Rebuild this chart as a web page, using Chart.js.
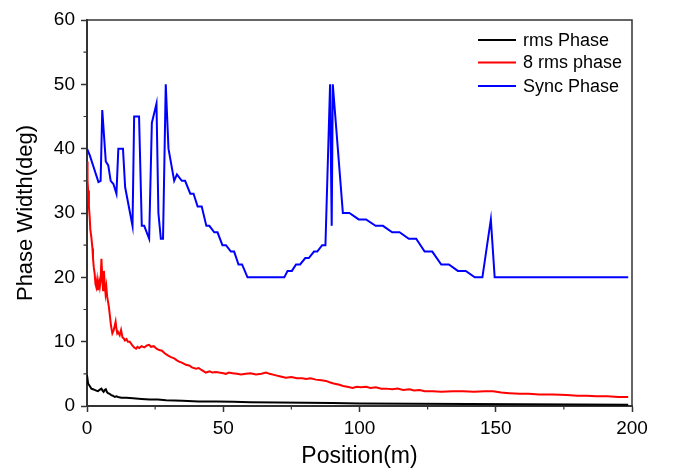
<!DOCTYPE html>
<html>
<head>
<meta charset="utf-8">
<script src="https://cdn.jsdelivr.net/npm/chart.js@4.4.1/dist/chart.umd.min.js"></script>
<style>
  html, body { margin: 0; padding: 0; background: #fff; }
  #wrap { width: 673px; height: 472px; }
</style>
</head>
<body>
<div id="wrap"><canvas id="c" width="673" height="472"></canvas></div>
<script>
// ---- data (x = Position in m, y = Phase width in deg) ----
const seriesNames = ['rms Phase', '8 rms phase', 'Sync Phase'];
const seriesColors = ['#000000', '#ff0000', '#0000ff'];

const rmsPhase = [[0,4.8],[0.4,3.5],[1,3.1],[1.6,2.7],[2.2,2.6],[2.8,2.5],[3.4,2.4],[4,2.3],[4.6,2.5],[5.3,2.7],[5.7,2.4],[6.1,2.2],[6.5,2.5],[6.9,2.6],[7.3,2.2],[7.7,2.0],[8.3,1.9],[8.9,1.7],[9.5,1.6],[10.2,1.4],[10.8,1.5],[11.4,1.4],[12.6,1.3],[14.4,1.3],[16.9,1.2],[20,1.1],[23,1.0],[26,1.0],[29,0.9],[35,0.8],[41,0.7],[47.5,0.7],[53.7,0.65],[60,0.6],[70,0.55],[80,0.5],[90,0.45],[100,0.4],[120,0.35],[140,0.3],[160,0.28],[180,0.25],[198.6,0.2]];

const rms8Phase = [[0,38],[0.2,35],[0.4,33.5],[0.7,31],[1.0,29.3],[1.2,27.5],[1.6,26.2],[2.0,24.5],[2.2,23],[2.5,21.5],[2.8,20.6],[3.1,19],[3.4,18.5],[3.7,19.5],[4.0,18],[4.4,19.3],[4.7,18.5],[5.0,19.5],[5.3,22.9],[5.6,20],[5.9,18],[6.2,21],[6.5,19],[6.8,17.5],[7.1,18.5],[7.4,17],[7.7,17],[8.0,15.5],[8.3,14.4],[8.8,12.5],[9.3,11.3],[9.8,11.8],[10.2,12.5],[10.5,13.1],[10.8,12],[11.1,11.3],[11.4,11.5],[12.0,11],[12.5,11.8],[13.0,10.7],[13.5,10.5],[13.9,10.2],[14.5,10.4],[15.0,10],[15.7,10],[16.5,9.5],[17.3,9.1],[18.0,8.9],[18.5,9.2],[19.2,9],[20,9.3],[21,9.1],[22,9.4],[22.8,9.5],[23.5,9.2],[24.5,9.3],[25.5,8.9],[26.5,8.7],[27.5,8.6],[28.5,8.2],[29.5,7.9],[30.8,7.6],[32,7.4],[33,7.1],[33.8,6.9],[35,6.7],[36.3,6.4],[37.5,6.3],[38.5,6.0],[40,5.8],[41,5.9],[42,5.6],[43.6,5.2],[45,5.4],[46,5.2],[47.3,5.3],[48.5,5.2],[50,5.1],[51,5.0],[52,5.2],[53.4,5.1],[55,5.0],[56.5,4.9],[58.3,5.0],[60,5.1],[62,4.9],[64,5.0],[65.7,5.2],[67,5.0],[69,4.8],[71,4.6],[73,4.4],[75,4.5],[77,4.3],[79,4.3],[80.4,4.2],[82,4.3],[84,4.1],[86,4.0],[87.7,3.9],[89,3.7],[90.5,3.5],[92.6,3.3],[94,3.1],[95.5,3.0],[97.5,2.8],[99,3.0],[100.5,2.9],[102.5,3.0],[104,2.8],[106,2.9],[108,2.7],[109.8,2.7],[112,2.6],[114,2.7],[116,2.5],[118.4,2.6],[120,2.4],[122,2.5],[124,2.3],[127,2.3],[130,2.2],[134.3,2.3],[138,2.3],[142,2.2],[146,2.3],[149,2.3],[152,2.1],[155,2.0],[158.8,1.9],[162,1.9],[166,1.8],[171,1.8],[176,1.7],[180,1.6],[183.3,1.6],[187,1.5],[191,1.5],[195,1.4],[198.6,1.4]];

const syncPhase = [[0,40],[1,39],[4.2,34.8],[5,35],[5.6,46],[6.9,38],[7.8,37.4],[8.7,35],[9.7,34.5],[10.8,33],[11.5,40],[13.2,40],[14,34],[16.7,28],[17.3,45],[19.1,45],[20.1,28],[21,28],[22.8,26],[23.8,44],[25.5,47],[26.2,30],[27.1,26],[27.9,26],[28.9,50],[29.9,40],[32,35],[33,36],[34.8,35],[36,35],[37.9,33],[39.1,33],[40.6,31],[42.1,31],[43.8,28],[44.9,28],[46.7,27],[47.9,27],[49.7,25],[51,25],[52.8,24],[54,24],[55.6,22],[56.9,22],[58.9,20],[72.4,20],[73.6,21],[75.2,21],[76.7,22],[78.2,22],[80.1,23],[81.4,23],[83.3,24],[84.5,24],[86.3,25],[87.5,25],[89.2,50],[89.8,28],[90.2,50],[93.9,30],[96.3,30],[99.7,29],[102.4,29],[105.9,28],[108.6,28],[112,27],[114.7,27],[118.1,26],[120.8,26],[123.9,24],[126.7,24],[130,22],[132.8,22],[136.1,21],[139,21],[142.3,20],[145.1,20],[148.2,29],[149.6,20],[198.6,20]];

const xMajorTicks = [0, 50, 100, 150, 200];
const xMinorTicks = [25, 75, 125, 175];
const yMajorTicks = [0, 10, 20, 30, 40, 50, 60];
const yMinorTicks = [5, 15, 25, 35, 45, 55];

const FONT = "'Liberation Sans', Arial, sans-serif";
const AXIS = '#333333';

const toPts = arr => arr.map(p => ({x: p[0], y: p[1]}));
const seriesData = [rmsPhase, rms8Phase, syncPhase];

const framePlugin = {
  id: 'frame',
  afterDraw(chart) {
    const {ctx, chartArea: a, scales} = chart;
    ctx.save();
    ctx.strokeStyle = AXIS;
    ctx.lineWidth = 1.5;
    ctx.beginPath();
    ctx.moveTo(a.left, a.top);
    ctx.lineTo(a.right, a.top);
    ctx.lineTo(a.right, a.bottom);
    ctx.stroke();
    // minor ticks
    ctx.lineWidth = 1.2;
    ctx.beginPath();
    xMinorTicks.forEach(v => {
      const px = scales.x.getPixelForValue(v);
      ctx.moveTo(px, a.bottom);
      ctx.lineTo(px, a.bottom + 3.5);
    });
    yMinorTicks.forEach(v => {
      const py = scales.y.getPixelForValue(v);
      ctx.moveTo(a.left, py);
      ctx.lineTo(a.left - 3.5, py);
    });
    ctx.stroke();
    // legend
    ctx.font = '18px ' + FONT;
    ctx.textBaseline = 'middle';
    ctx.textAlign = 'left';
    const rowsY = [40, 62.5, 86];
    seriesNames.forEach((name, i) => {
      ctx.strokeStyle = seriesColors[i];
      ctx.lineWidth = 2;
      ctx.beginPath();
      ctx.moveTo(478, rowsY[i]);
      ctx.lineTo(516, rowsY[i]);
      ctx.stroke();
      ctx.fillStyle = '#000';
      ctx.fillText(name, 523, rowsY[i] + 1);
    });
    ctx.restore();
  }
};

new Chart(document.getElementById('c'), {
  type: 'line',
  data: {
    datasets: seriesNames.map((n, i) => ({
      label: n,
      data: toPts(seriesData[i]),
      borderColor: seriesColors[i],
      backgroundColor: seriesColors[i],
      borderWidth: 2,
      pointRadius: 0,
      tension: 0,
      fill: false
    }))
  },
  options: {
    responsive: false,
    animation: false,
    parsing: true,
    layout: { padding: { top: 20, right: 41, left: 0, bottom: 0 } },
    plugins: { legend: { display: false }, tooltip: { enabled: false } },
    scales: {
      x: {
        type: 'linear',
        min: 0, max: 200,
        afterBuildTicks: s => { s.ticks = xMajorTicks.map(v => ({value: v})); },
        afterFit: s => { s.height = 66; },
        border: { color: AXIS, width: 2 },
        grid: { drawOnChartArea: false, drawTicks: true, tickLength: 6, tickColor: AXIS, tickWidth: 1.5 },
        ticks: { color: '#000', font: { family: FONT, size: 19 }, padding: 5, maxRotation: 0 },
        title: { display: true, text: 'Position(m)', color: '#000', font: { family: FONT, size: 23 }, padding: { top: 0, bottom: 2 } }
      },
      y: {
        type: 'linear',
        min: 0, max: 60,
        afterBuildTicks: s => { s.ticks = yMajorTicks.map(v => ({value: v})); },
        afterFit: s => { s.width = 87; },
        border: { color: AXIS, width: 2 },
        grid: { drawOnChartArea: false, drawTicks: true, tickLength: 6, tickColor: AXIS, tickWidth: 1.5 },
        ticks: { color: '#000', font: { family: FONT, size: 19 }, padding: 6 },
        title: { display: true, text: 'Phase Width(deg)', color: '#000', font: { family: FONT, size: 22 }, padding: { top: 13, bottom: 0 } }
      }
    }
  },
  plugins: [framePlugin]
});
</script>
</body>
</html>
